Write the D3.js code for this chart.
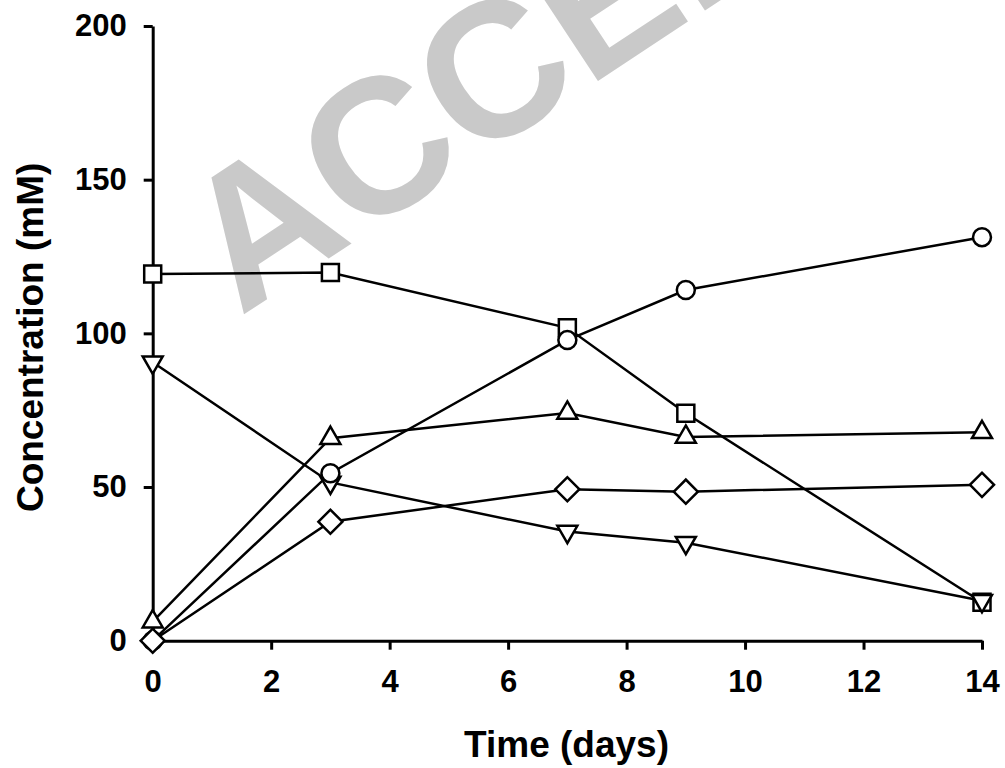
<!DOCTYPE html>
<html>
<head>
<meta charset="utf-8">
<script src="https://cdn.jsdelivr.net/npm/d3@7"></script>
<style>
  body { margin: 0; background: #fff; }
  svg { display: block; font-family: "Liberation Sans", Arial, sans-serif; }
</style>
</head>
<body>
<div id="chart"></div>
<script>
// Data
const days = [0, 3, 7, 9, 14];
const squareVals = [119.3, 119.8, 101.8, 74, 12.5];
const circleVals = [0, 54.5, 97.8, 114.1, 131.3];
const triUpVals = [6.2, 65.9, 74.1, 66.3, 67.8];
const diamondVals = [0, 38.7, 49.3, 48.5, 50.7];
const triDownVals = [90.6, 51.5, 35.5, 31.9, 13];
const xTicks = [0, 2, 4, 6, 8, 10, 12, 14];
const yTicks = [0, 50, 100, 150, 200];

// series in drawing order
const series = [
    {name: "square", values: squareVals},
    {name: "triDown", values: triDownVals},
    {name: "triUp", values: triUpVals},
    {name: "circle", values: circleVals},
    {name: "diamond", values: diamondVals}
];

const W = 1005, H = 768;
const svg = d3.select("#chart").append("svg")
    .attr("width", W)
    .attr("height", H);

const x = d3.scaleLinear().domain([0, 14]).range([152.7, 982]);
const y = d3.scaleLinear().domain([0, 200]).range([640.7, 26]);

// Watermark (runs off the top edge, as in the original)
svg.append("text")
    .attr("transform", "translate(240,317) rotate(-33.4)")
    .attr("font-size", 192)
    .attr("font-weight", "bold")
    .attr("fill", "#c9c9c9")
    .text("ACCEPTED");

// Y axis
const yAxis = svg.append("g")
    .attr("transform", `translate(${x(0)},0)`)
    .call(d3.axisLeft(y).tickValues(yTicks).tickSize(9).tickSizeOuter(0).tickPadding(17));

// X axis
const xAxis = svg.append("g")
    .attr("transform", `translate(0,${y(0)})`)
    .call(d3.axisBottom(x).tickValues(xTicks).tickSize(9).tickSizeOuter(0));

xAxis.selectAll(".tick text").attr("y", 0).attr("dy", null).attr("transform", "translate(0,51)");

[yAxis, xAxis].forEach(g => {
    g.select(".domain").attr("stroke", "#000").attr("stroke-width", 3);
    g.selectAll(".tick line").attr("stroke", "#000").attr("stroke-width", 3);
    g.selectAll(".tick text")
        .attr("font-size", 31)
        .attr("font-weight", "bold")
        .attr("fill", "#000")
        .attr("font-family", "'Liberation Sans', Arial, sans-serif");
});

// Axis titles
svg.append("text")
    .attr("x", 566.5)
    .attr("y", 756.7)
    .attr("text-anchor", "middle")
    .attr("font-size", 37)
    .attr("font-weight", "bold")
    .text("Time (days)");

svg.append("text")
    .attr("transform", `translate(43,${(y(0) + y(200)) / 2 + 4}) rotate(-90)`)
    .attr("text-anchor", "middle")
    .attr("font-size", 37)
    .attr("font-weight", "bold")
    .text("Concentration (mM)");

// Marker shapes
const symbolFor = {
    square: {type: d3.symbolSquare, size: 289, rot: 0},
    circle: {type: d3.symbolCircle, size: 254, rot: 0},
    triUp: {type: d3.symbolTriangle, size: 173, rot: 0},
    triDown: {type: d3.symbolTriangle, size: 173, rot: 180},
    diamond: {type: d3.symbolSquare, size: 289, rot: 45}
};

const line = d3.line()
    .x((d, i) => x(days[i]))
    .y(d => y(d));

series.forEach(s => {
    const g = svg.append("g").attr("class", "series " + s.name);
    g.append("path")
        .datum(s.values)
        .attr("d", line)
        .attr("fill", "none")
        .attr("stroke", "#000")
        .attr("stroke-width", 2.5);
    const sym = symbolFor[s.name];
    g.selectAll("path.marker")
        .data(s.values)
        .enter()
        .append("path")
        .attr("class", "marker")
        .attr("d", d3.symbol().type(sym.type).size(sym.size))
        .attr("transform", (d, i) => `translate(${x(days[i])},${y(d)}) rotate(${sym.rot})`)
        .attr("fill", "#fff")
        .attr("stroke", "#000")
        .attr("stroke-width", 2.5);
});
</script>
</body>
</html>
